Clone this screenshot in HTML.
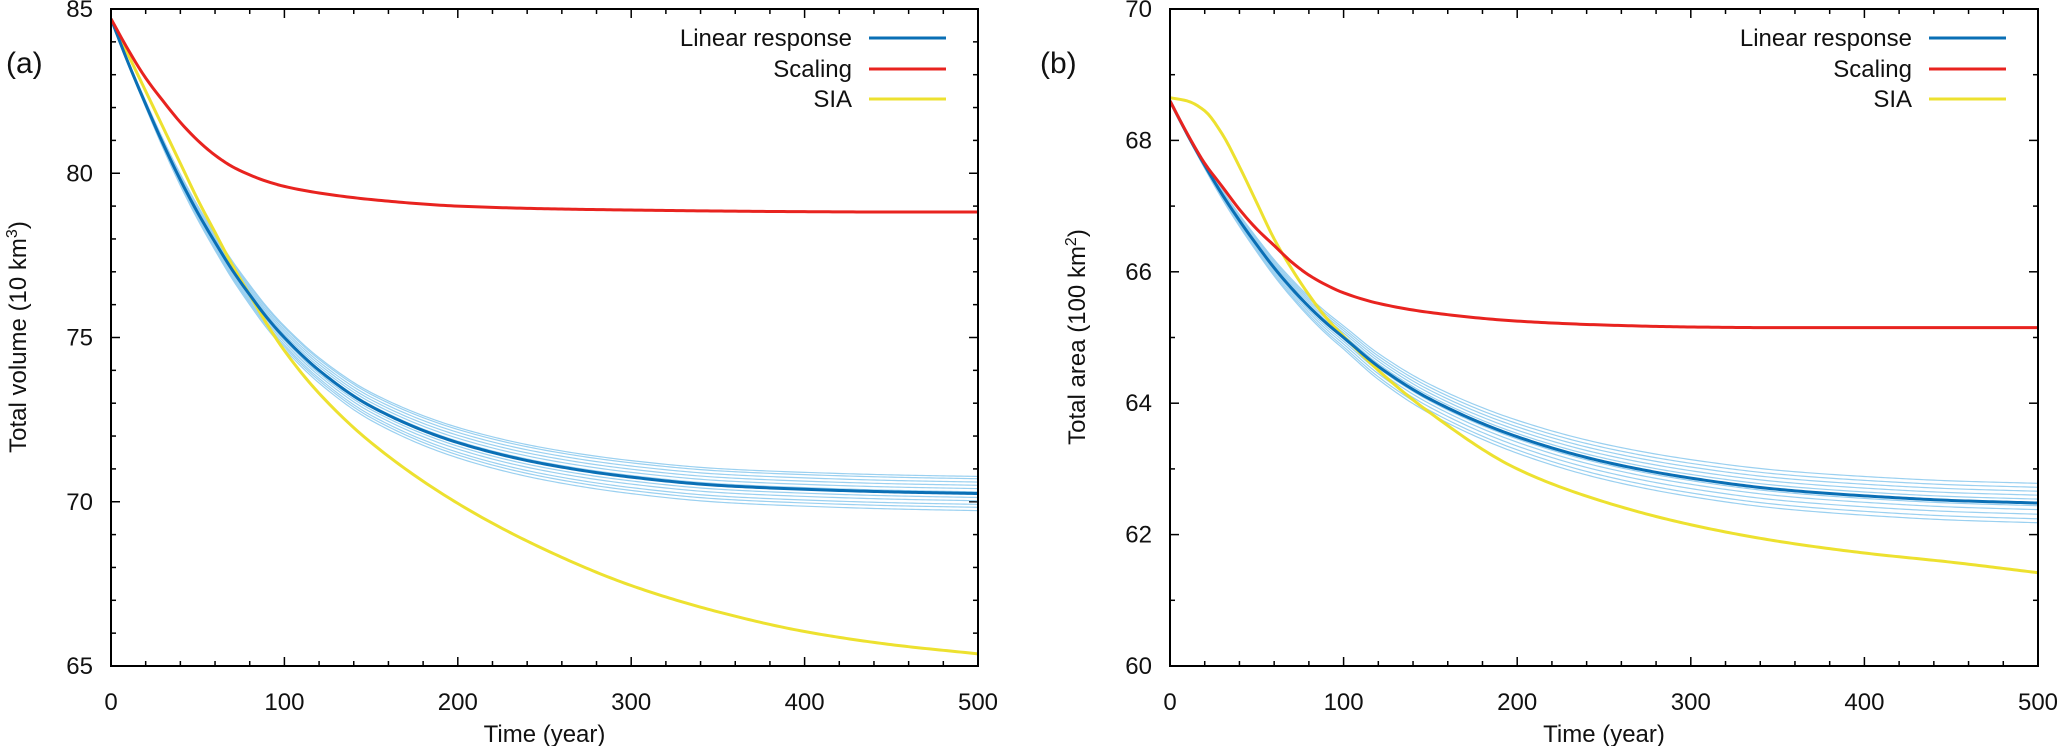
<!DOCTYPE html>
<html><head><meta charset="utf-8">
<style>
html,body{margin:0;padding:0;background:#fff;}
svg{display:block;font-family:"Liberation Sans","DejaVu Sans",sans-serif;}
</style></head>
<body>
<svg id="chart" width="2067" height="746" viewBox="0 0 2067 746" xmlns="http://www.w3.org/2000/svg"></svg>
<script>
const years = [0,10,20,30,40,50,60,70,80,90,100,120,150,200,250,300,350,400,450,500];
const volLinear  = [84.7,83.35,82.1,80.9,79.8,78.8,77.9,77.05,76.3,75.6,75.0,74.0,72.9,71.8,71.15,70.75,70.5,70.38,70.3,70.25];
const volScaling = [84.7,83.75,82.9,82.2,81.55,81.0,80.55,80.2,79.95,79.75,79.6,79.4,79.2,79.0,78.92,78.88,78.85,78.83,78.82,78.82];
const volSIA     = [84.7,83.6,82.5,81.4,80.3,79.2,78.2,77.2,76.3,75.4,74.6,73.3,71.8,69.95,68.55,67.45,66.65,66.05,65.65,65.37];
const areaLinear  = [68.6,68.09,67.62,67.18,66.78,66.41,66.06,65.75,65.47,65.22,65.0,64.56,64.06,63.49,63.11,62.86,62.69,62.59,62.52,62.48];
const areaScaling = [68.6,68.1,67.65,67.3,66.95,66.65,66.4,66.15,65.95,65.8,65.68,65.52,65.38,65.25,65.19,65.16,65.15,65.15,65.15,65.15];
const areaSIA     = [68.65,68.6,68.45,68.1,67.6,67.05,66.5,66.05,65.65,65.3,65.02,64.5,63.85,63.0,62.5,62.15,61.9,61.72,61.58,61.42];
const volEnsembleOffsets  = [-0.52,-0.42,-0.33,-0.22,-0.12,0.05,0.15,0.25,0.35,0.45,0.52];
const areaEnsembleOffsets = [-0.3,-0.24,-0.17,-0.1,-0.04,0.06,0.12,0.18,0.24,0.3];
const xTicks = [0,100,200,300,400,500];
const volTicks = [65,70,75,80,85];
const areaTicks = [60,62,64,66,68,70];
const legendLabels = ["Linear response","Scaling","SIA"];
const colors = {lin:"#0a6fb5", sc:"#e8231f", sia:"#ede12f", ens:"#9ad0f0"};

const svg = document.getElementById('chart');
const NS = "http://www.w3.org/2000/svg";
function mk(tag, attrs, parent){ const e=document.createElementNS(NS,tag); for(const k in attrs) e.setAttribute(k,attrs[k]); (parent||svg).appendChild(e); return e; }

function interp(xs, ys){
  const n=xs.length, d=[], m=new Array(n);
  for(let i=0;i<n-1;i++) d.push((ys[i+1]-ys[i])/(xs[i+1]-xs[i]));
  m[0]=d[0]; m[n-1]=d[n-2];
  for(let i=1;i<n-1;i++){
    if(d[i-1]*d[i]<=0) m[i]=0;
    else { const h0=xs[i]-xs[i-1], h1=xs[i+1]-xs[i]; const w1=2*h1+h0, w2=h1+2*h0; m[i]=(w1+w2)/(w1/d[i-1]+w2/d[i]); }
  }
  return function(x){
    let i=0; while(i<n-2 && x>xs[i+1]) i++;
    const h=xs[i+1]-xs[i], t=(x-xs[i])/h, t2=t*t, t3=t2*t;
    return (2*t3-3*t2+1)*ys[i]+(t3-2*t2+t)*h*m[i]+(-2*t3+3*t2)*ys[i+1]+(t3-t2)*h*m[i+1];
  };
}
function pathFrom(f, X, Y){
  let d='';
  for(let t=0;t<=500;t+=2){ d+=(t===0?'M':'L')+X(t).toFixed(2)+','+Y(f(t)).toFixed(2); }
  return d;
}

function panel(cfg){
  const {x0,x1,yT,yB,ymin,ymax,yticks,minorStep,lin,sc,sia,offs,label,ytitle,ytitleX,labX,key} = cfg;
  const g = mk('g',{});
  
  
  const X = v => x0 + (v-0)/(500-0)*(x1-x0);
  const Y = v => yB - (v-ymin)/(ymax-ymin)*(yB-yT);
  for(let t=0;t<=500;t+=20){
    const x=X(t), L=(t%100===0)?9:5;
    const tk1=mk('line',{x1:x,x2:x,y1:yB,y2:yB-L,stroke:"#000","stroke-width":1.5},g);
    
    
    mk('line',{x1:x,x2:x,y1:yT,y2:yT+L,stroke:"#000","stroke-width":1.5},g);
  }
  for(let v=ymin; v<=ymax+1e-9; v+=minorStep){
    const y=Y(v), major = yticks.some(t=>Math.abs(t-v)<1e-6), L=major?9:5;
    const tk=mk('line',{x1:x0,x2:x0+L,y1:y,y2:y,stroke:"#000","stroke-width":1.5},g);
    
    
    mk('line',{x1:x1,x2:x1-L,y1:y,y2:y,stroke:"#000","stroke-width":1.5},g);
  }
  xTicks.forEach(t=>{
    const tx=mk('text',{x:X(t),y:710,"font-size":24,"text-anchor":"middle",fill:"#111"},g);
    tx.textContent=t;
    
    
  });
  yticks.forEach(v=>{
    const ty=mk('text',{x:x0-18,y:Y(v)+8,"font-size":24,"text-anchor":"end",fill:"#111"},g);
    ty.textContent=v;
    
    
  });
  const cp=mk('clipPath',{id:'clip-'+key},g);
  mk('rect',{x:x0,y:yT,width:x1-x0,height:yB-yT},cp);
  const cg=mk('g',{'clip-path':`url(#clip-${key})`},g);
  const fl=interp(years, lin);
  const start=lin[0], end=lin[lin.length-1];
  offs.forEach(o=>{
    const f = t => { const v=fl(t); return v + o*(start-v)/(start-end); };
    const p=mk('path',{d:pathFrom(f,X,Y),fill:"none",stroke:colors.ens,"stroke-width":1.2},cg);
    
    
  });
  const series=[[sia,colors.sia,'sia-line'],[lin,colors.lin,'linear-response-line'],[sc,colors.sc,'scaling-line']];
  series.forEach(([arr,c,n])=>{
    const p=mk('path',{d:pathFrom(interp(years,arr),X,Y),fill:"none",stroke:c,"stroke-width":3,"stroke-linejoin":"round"},cg);
    
    
  });
  const fr=mk('rect',{x:x0,y:yT,width:x1-x0,height:yB-yT,fill:"none",stroke:"#000","stroke-width":2},g);
  
  
  const lc=[colors.lin,colors.sc,colors.sia], ly=[38,69,99];
  legendLabels.forEach((s,i)=>{
    const t=mk('text',{x:x1-126,y:ly[i]+8,"font-size":24,"text-anchor":"end",fill:"#111"},g);
    t.textContent=s;
    
    
    const l=mk('line',{x1:x1-109,x2:x1-32,y1:ly[i],y2:ly[i],stroke:lc[i],"stroke-width":3},g);
    
    
  });
  const xt=mk('text',{x:(x0+x1)/2,y:742,"font-size":24,"text-anchor":"middle",fill:"#111"},g);
  xt.textContent="Time (year)";
  
  
  const yt=mk('text',{x:0,y:0,"font-size":24,"text-anchor":"middle",fill:"#111",transform:`translate(${ytitleX},337) rotate(-90)`},g);
  yt.innerHTML=ytitle;
  
  
  const pl=mk('text',{x:labX,y:73,"font-size":30,fill:"#111"},g);
  pl.textContent=label;
  
  
}

panel({key:'volume',x0:111,x1:978,yT:9,yB:666,ymin:65,ymax:85,yticks:volTicks,minorStep:1,
  lin:volLinear,sc:volScaling,sia:volSIA,offs:volEnsembleOffsets,label:"(a)",
  ytitle:'Total volume (10 km<tspan dy="-9" font-size="16">3</tspan><tspan dy="9">)</tspan>',ytitleX:26,labX:6});
panel({key:'area',x0:1170,x1:2038,yT:9,yB:666,ymin:60,ymax:70,yticks:areaTicks,minorStep:1,
  lin:areaLinear,sc:areaScaling,sia:areaSIA,offs:areaEnsembleOffsets,label:"(b)",
  ytitle:'Total area (100 km<tspan dy="-9" font-size="16">2</tspan><tspan dy="9">)</tspan>',ytitleX:1085,labX:1040});
</script>
</body></html>
